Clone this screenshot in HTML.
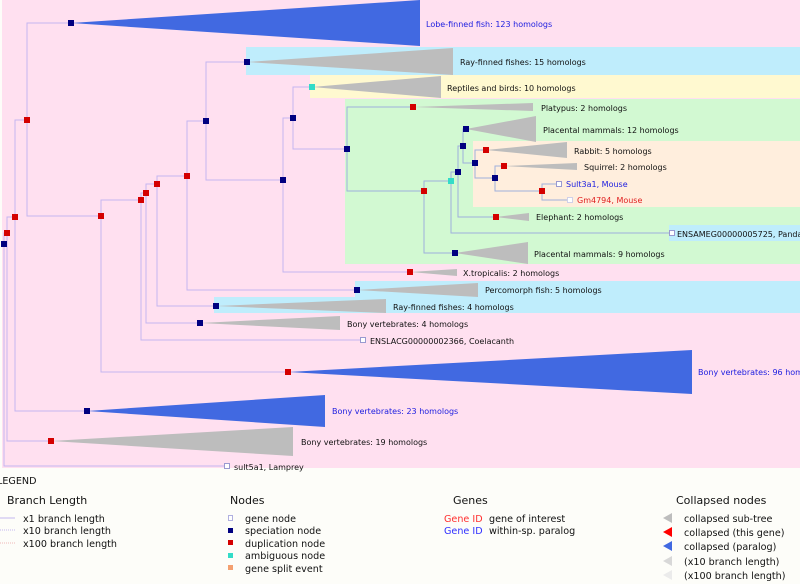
<!DOCTYPE html>
<html><head><meta charset="utf-8"><style>
html,body{margin:0;padding:0;background:#fdfdf9;}
svg{display:block;font-family:"DejaVu Sans","Liberation Sans",sans-serif;}
.t{font-size:8px;fill:#111;}
.l{font-size:9.6px;fill:#111;}
.h{font-size:11px;fill:#111;}
.e{fill:none;stroke:#c4b6f0;stroke-width:1;}
.g{fill:none;stroke:#9fb0dc;stroke-width:1;}
.s{fill:#000080;}.d{fill:#d40000;}.a{fill:#33dcc8;}
.tr{fill:#bdbdbd;}.bl{fill:#4169e1;}
</style></head><body>
<svg width="800" height="584" viewBox="0 0 800 584" xmlns="http://www.w3.org/2000/svg">
<rect x="0" y="0" width="800" height="584" fill="#fdfdf9"/>
<rect x="2" y="0" width="798" height="468" fill="#ffe0f0"/>
<rect x="246" y="47" width="554" height="28" fill="#bfedfc"/>
<rect x="310" y="75" width="490" height="23" fill="#fff9d0"/>
<rect x="345" y="99" width="455" height="165" fill="#d2f9d2"/>
<rect x="473" y="141" width="327" height="66" fill="#ffeedd"/>
<rect x="669" y="225" width="131" height="16" fill="#bfedfc"/>
<rect x="355" y="281" width="445" height="16" fill="#bfedfc"/>
<rect x="214" y="297" width="586" height="16" fill="#bfedfc"/>

<path class="e" d="M4 244V466H227 M4 244V233H7 M7 233V441H51 M7 233V217H15 M15 217V411H87 M15 217V120H27 M27 120V23H71 M27 120V216H101 M101 216V372H288 M101 216V200H141 M141 200V340H363 M141 200V193H146 M146 193V323H200 M146 193V184H157 M157 184V306H216 M157 184V176H187 M187 176V290H357 M187 176V121H206 M206 121V62H247 M206 121V180H283 M283 180V272H410 M283 180V118H293 M293 118V87H312 M293 118V149H347"/>
<path class="g" d="M347 149V107H413 M347 149V191H424 M424 191V253H455 M424 191V181H451 M451 181V233H673 M451 181V172H458 M458 172V217H496 M458 172V146H463 M463 146V129H466 M463 146V163H475 M475 163V150H486 M475 163V178H495 M495 178V166H504 M495 178V191H542 M542 191V184H559 M542 191V200H570"/>

<polygon class="bl" points="71,23 420,0 420,46"/>
<polygon class="tr" points="247,62 453,48 453,75"/>
<polygon class="tr" points="312,87 441,76 441,98"/>
<polygon class="tr" points="413,107 533,103 533,111"/>
<polygon class="tr" points="466,129 536,116 536,142"/>
<polygon class="tr" points="486,150 567,142 567,158"/>
<polygon class="tr" points="504,166 577,163 577,170"/>
<polygon class="tr" points="496,217 529,213 529,221"/>
<polygon class="tr" points="455,253 528,242 528,264"/>
<polygon class="tr" points="410,272 457,269 457,276"/>
<polygon class="tr" points="357,290 478,283 478,297"/>
<polygon class="tr" points="216,306 386,299 386,313"/>
<polygon class="tr" points="200,323 340,316 340,330"/>
<polygon class="bl" points="288,372 692,350 692,394"/>
<polygon class="bl" points="87,411 325,395 325,427"/>
<polygon class="tr" points="51,441 293,427 293,456"/>

<g>
<rect class="s" x="1" y="241" width="6" height="6"/>
<rect class="d" x="4" y="230" width="6" height="6"/>
<rect class="d" x="12" y="214" width="6" height="6"/>
<rect class="d" x="24" y="117" width="6" height="6"/>
<rect class="s" x="68" y="20" width="6" height="6"/>
<rect class="d" x="98" y="213" width="6" height="6"/>
<rect class="d" x="138" y="197" width="6" height="6"/>
<rect class="d" x="143" y="190" width="6" height="6"/>
<rect class="d" x="154" y="181" width="6" height="6"/>
<rect class="d" x="184" y="173" width="6" height="6"/>
<rect class="s" x="203" y="118" width="6" height="6"/>
<rect class="s" x="244" y="59" width="6" height="6"/>
<rect class="s" x="280" y="177" width="6" height="6"/>
<rect class="s" x="290" y="115" width="6" height="6"/>
<rect class="a" x="309" y="84" width="6" height="6"/>
<rect class="s" x="344" y="146" width="6" height="6"/>
<rect class="d" x="410" y="104" width="6" height="6"/>
<rect class="d" x="421" y="188" width="6" height="6"/>
<rect class="a" x="448" y="178" width="6" height="6"/>
<rect class="s" x="455" y="169" width="6" height="6"/>
<rect class="s" x="460" y="143" width="6" height="6"/>
<rect class="s" x="463" y="126" width="6" height="6"/>
<rect class="s" x="472" y="160" width="6" height="6"/>
<rect class="d" x="483" y="147" width="6" height="6"/>
<rect class="s" x="492" y="175" width="6" height="6"/>
<rect class="d" x="501" y="163" width="6" height="6"/>
<rect class="d" x="539" y="188" width="6" height="6"/>
<rect class="d" x="493" y="214" width="6" height="6"/>
<rect class="s" x="452" y="250" width="6" height="6"/>
<rect class="d" x="407" y="269" width="6" height="6"/>
<rect class="s" x="354" y="287" width="6" height="6"/>
<rect class="s" x="213" y="303" width="6" height="6"/>
<rect class="s" x="197" y="320" width="6" height="6"/>
<rect class="d" x="285" y="369" width="6" height="6"/>
<rect class="s" x="84" y="408" width="6" height="6"/>
<rect class="d" x="48" y="438" width="6" height="6"/>
<rect x="556.5" y="181.5" width="5" height="5" fill="#fff" stroke="#9a9ad0" stroke-width="1"/>
<rect x="567.5" y="197.5" width="5" height="5" fill="#fff" stroke="#d0d0e8" stroke-width="1"/>
<rect x="669.5" y="230.5" width="5" height="5" fill="#fff" stroke="#9a9ad0" stroke-width="1"/>
<rect x="360.5" y="337.5" width="5" height="5" fill="#fff" stroke="#9a9ad0" stroke-width="1"/>
<rect x="224.5" y="463.5" width="5" height="5" fill="#fff" stroke="#9a9ad0" stroke-width="1"/>
</g>

<g class="t">
<text x="426" y="27" fill="#2020e0">Lobe-finned fish: 123 homologs</text>
<text x="460" y="65">Ray-finned fishes: 15 homologs</text>
<text x="447" y="91">Reptiles and birds: 10 homologs</text>
<text x="541" y="111">Platypus: 2 homologs</text>
<text x="543" y="133">Placental mammals: 12 homologs</text>
<text x="574" y="154">Rabbit: 5 homologs</text>
<text x="584" y="170">Squirrel: 2 homologs</text>
<text x="566" y="187" fill="#2020e0">Sult3a1, Mouse</text>
<text x="577" y="203" fill="#e02020">Gm4794, Mouse</text>
<text x="536" y="220">Elephant: 2 homologs</text>
<text x="677" y="237">ENSAMEG00000005725, Panda</text>
<text x="534" y="257">Placental mammals: 9 homologs</text>
<text x="463" y="276">X.tropicalis: 2 homologs</text>
<text x="485" y="293">Percomorph fish: 5 homologs</text>
<text x="393" y="310">Ray-finned fishes: 4 homologs</text>
<text x="347" y="327">Bony vertebrates: 4 homologs</text>
<text x="370" y="344">ENSLACG00000002366, Coelacanth</text>
<text x="698" y="375" fill="#2020e0">Bony vertebrates: 96 homologs</text>
<text x="332" y="414" fill="#2020e0">Bony vertebrates: 23 homologs</text>
<text x="301" y="445">Bony vertebrates: 19 homologs</text>
<text x="234" y="470">sult5a1, Lamprey</text>
</g>

<text class="l" x="-3" y="484">LEGEND</text>
<text class="h" x="7" y="504">Branch Length</text>
<text class="h" x="230" y="504">Nodes</text>
<text class="h" x="453" y="504">Genes</text>
<text class="h" x="676" y="504">Collapsed nodes</text>
<g class="l">
<line x1="0" y1="518" x2="15" y2="518" stroke="#c4b6f0"/>
<line x1="0" y1="530" x2="15" y2="530" stroke="#c4b6f0" stroke-dasharray="1,1"/>
<line x1="0" y1="543" x2="15" y2="543" stroke="#f0b8b8" stroke-dasharray="1,1"/>
<text x="23" y="522">x1 branch length</text>
<text x="23" y="534">x10 branch length</text>
<text x="23" y="547">x100 branch length</text>
<rect x="228.5" y="515.5" width="4" height="5" fill="#fff" stroke="#b0b0e0"/>
<rect x="228" y="528" width="5" height="5" fill="#000080"/>
<rect x="228" y="540" width="5" height="5" fill="#d40000"/>
<rect x="228" y="553" width="5" height="5" fill="#33dcc8"/>
<rect x="228" y="565" width="5" height="5" fill="#f4a070"/>
<text x="245" y="522">gene node</text>
<text x="245" y="534">speciation node</text>
<text x="245" y="547">duplication node</text>
<text x="245" y="559">ambiguous node</text>
<text x="245" y="572">gene split event</text>
<text x="444" y="522" fill="#ff3030">Gene ID</text>
<text x="444" y="534" fill="#3030ff">Gene ID</text>
<text x="489" y="522">gene of interest</text>
<text x="489" y="534">within-sp. paralog</text>
<polygon points="663,518 672,513 672,523" fill="#bdbdbd"/>
<polygon points="663,532 672,527 672,537" fill="#ff0000"/>
<polygon points="663,546 672,541 672,551" fill="#4169e1"/>
<polygon points="663,561 672,556 672,566" fill="#d8d8d8"/>
<polygon points="663,575 672,570 672,580" fill="#ebebeb"/>
<text x="684" y="522">collapsed sub-tree</text>
<text x="684" y="536">collapsed (this gene)</text>
<text x="684" y="550">collapsed (paralog)</text>
<text x="684" y="565">(x10 branch length)</text>
<text x="684" y="579">(x100 branch length)</text>
</g>
</svg>
</body></html>
